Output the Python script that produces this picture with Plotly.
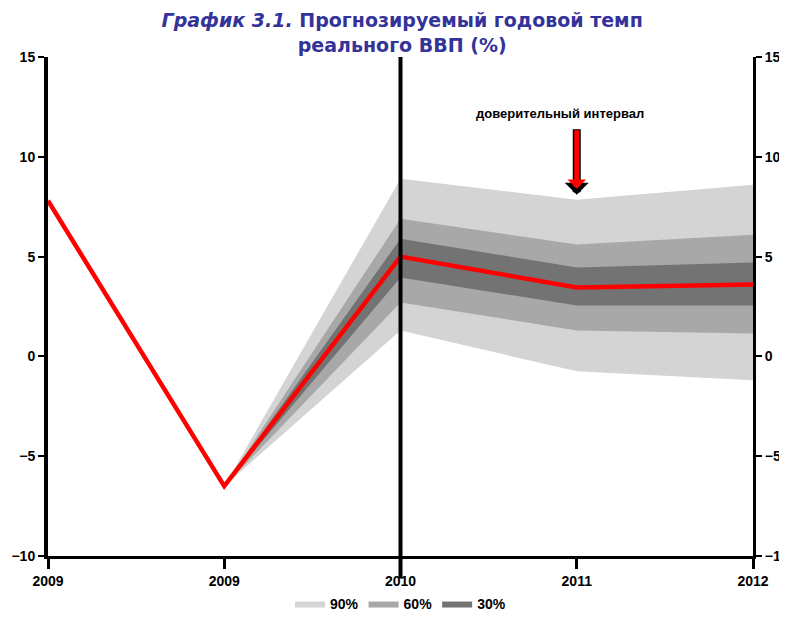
import plotly.graph_objects as go

# categories on the x axis (the source repeats "2009")
x_labels = ["2009", "2009", "2010", "2011", "2012"]
x_pos = [0, 1, 2, 3, 4]

# forecast of real GDP growth, %
gdp = [7.8, -6.5, 5.0, 3.45, 3.6]

# confidence bands, from the second point onwards
band_x = [1, 2, 3, 4]
band90_hi = [-6.5, 8.9, 7.85, 8.6]
band90_lo = [-6.5, 1.3, -0.75, -1.2]
band60_hi = [-6.5, 6.9, 5.6, 6.1]
band60_lo = [-6.5, 2.7, 1.3, 1.15]
band30_hi = [-6.5, 5.9, 4.45, 4.7]
band30_lo = [-6.5, 3.95, 2.55, 2.55]

bands = [
    ("90%", band90_hi, band90_lo, "#d4d4d4"),
    ("60%", band60_hi, band60_lo, "#a8a8a8"),
    ("30%", band30_hi, band30_lo, "#737373"),
]

font_family = "Liberation Sans, Arial"

fig = go.Figure()

for name, hi, lo, color in bands:
    fig.add_trace(go.Scatter(
        x=band_x + band_x[::-1],
        y=hi + lo[::-1],
        fill="toself",
        fillcolor=color,
        line=dict(width=0, color=color),
        mode="lines",
        name=name,
        hoverinfo="skip",
    ))

fig.add_trace(go.Scatter(
    x=x_pos, y=gdp,
    mode="lines",
    line=dict(color="#ff0000", width=4.5),
    showlegend=False,
))

# dummy trace to get the right-hand axis
fig.add_trace(go.Scatter(x=[0], y=[0], yaxis="y2", mode="markers",
                         marker=dict(opacity=0), showlegend=False, hoverinfo="skip"))

# thick vertical divider at 2010
fig.add_shape(type="line", x0=2, x1=2, xref="x", y0=-0.045, y1=1.0, yref="paper",
              line=dict(color="black", width=4))

# "confidence interval" label and red arrow (black outline underneath)
fig.add_annotation(x=3.0, y=8.1, ax=3.0, ay=11.45, xref="x", yref="y", axref="x", ayref="y",
                   showarrow=True, arrowhead=1, arrowsize=0.5, arrowwidth=8,
                   arrowcolor="black", text="")
fig.add_annotation(x=3.0, y=8.4, ax=3.0, ay=11.4, xref="x", yref="y", axref="x", ayref="y",
                   showarrow=True, arrowhead=1, arrowsize=0.62, arrowwidth=5,
                   arrowcolor="#ff0000", text="")
fig.add_annotation(x=2.905, y=12.15, xref="x", yref="y", showarrow=False,
                   text="<b>доверительный интервал</b>",
                   font=dict(family=font_family, size=13, color="black"))

axis_font = dict(family=font_family, size=14, color="black", weight="bold")

# the page adds an 8px body margin, so the figure is drawn 8px smaller
fig.update_layout(
    width=779, height=609,
    margin=dict(l=40, r=34, t=49, b=61, autoexpand=False),
    plot_bgcolor="white", paper_bgcolor="white",
    title=dict(
        text="<i>График 3.1.</i> Прогнозируемый годовой темп<br>реального ВВП (%)",
        x=0.506, xanchor="center", xref="container",
        y=0.969, yanchor="middle", yref="container",
        font=dict(family="DejaVu Sans", size=19, color="#333399", weight="bold"),
    ),
    xaxis=dict(
        range=[0, 4], tickvals=x_pos, ticktext=x_labels,
        showgrid=False, zeroline=False,
        showline=True, linecolor="black", linewidth=3,
        ticks="outside", ticklen=10, tickwidth=3, tickcolor="black",
        tickfont=axis_font,
    ),
    yaxis=dict(
        range=[-10, 15], tickvals=[-10, -5, 0, 5, 10, 15],
        showgrid=False, zeroline=False,
        showline=True, linecolor="black", linewidth=4,
        ticks="outside", ticklen=6, tickwidth=2, tickcolor="black",
        tickfont=axis_font,
    ),
    yaxis2=dict(
        range=[-10, 15], tickvals=[-10, -5, 0, 5, 10, 15],
        overlaying="y", side="right",
        showgrid=False, zeroline=False,
        showline=True, linecolor="black", linewidth=3,
        ticks="outside", ticklen=6, tickwidth=2, tickcolor="black",
        tickfont=axis_font,
    ),
    legend=dict(
        orientation="h", x=0.5, xanchor="center", y=-0.064, yanchor="top",
        font=dict(family=font_family, size=14, color="black", weight="bold"),
        itemwidth=30, tracegroupgap=0,
    ),
    showlegend=True,
)

fig.write_html("out.html")
